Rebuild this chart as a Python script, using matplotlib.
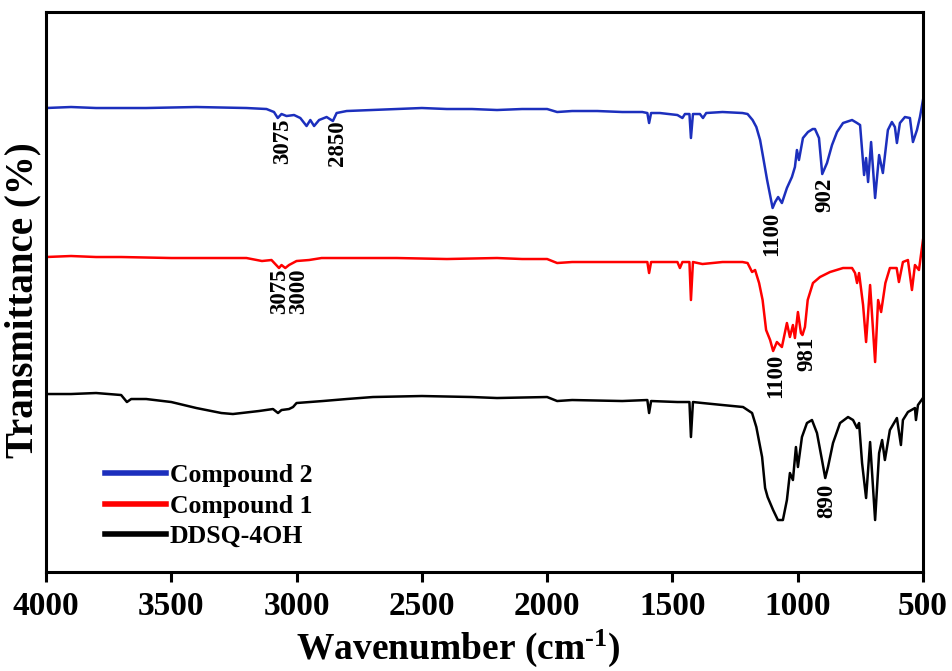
import numpy as np
import matplotlib
matplotlib.use("Agg")
import matplotlib.pyplot as plt

plt.rcParams["font.family"] = ["Liberation Serif", "DejaVu Serif"]
plt.rcParams["font.weight"] = "bold"
plt.rcParams["mathtext.fontset"] = "custom"
plt.rcParams["mathtext.rm"] = "Liberation Serif:bold"
plt.rcParams["mathtext.default"] = "regular"

# FTIR spectra, stacked (offset already included), arbitrary units
wn_c2 = [4000, 3900, 3800, 3600, 3400, 3200, 3120, 3090, 3075, 3060, 3040, 3010,
         2985, 2960, 2945, 2930, 2910, 2880, 2855, 2840, 2800, 2700, 2600, 2500,
         2400, 2300, 2200, 2100, 2000, 1960, 1900, 1800, 1700, 1620, 1600, 1593,
         1585, 1550, 1480, 1460, 1450, 1432, 1426, 1418, 1390, 1378, 1365, 1300,
         1220, 1200, 1180, 1165, 1150, 1138, 1122, 1100, 1090, 1078, 1063, 1043,
         1023, 1011, 1003, 995, 979, 959, 940, 931, 915, 902, 883, 863, 843, 819,
         783, 763, 751, 735, 727, 719, 707, 691, 675, 660, 640, 624, 612, 604,
         592, 572, 552, 540, 524, 512, 500]
t_c2 = [464, 465, 464, 464, 465, 464, 463, 460, 454, 458, 456, 457,
        454, 446, 452, 446, 452, 455, 451, 459, 461, 462, 463, 464,
        463, 463, 462, 463, 463, 460, 461, 461, 460, 460, 459, 449,
        459, 459, 457, 454, 458, 458, 434, 458, 458, 454, 459, 460,
        459, 458, 452, 445, 432, 415, 392, 364, 370, 375, 369, 384,
        395, 405, 422, 412, 434, 440, 443, 443, 434, 398, 409, 427, 440, 449,
        452, 449, 447, 397, 414, 390, 430, 374, 417, 399, 442, 450, 445, 429,
        449, 455, 454, 430, 442, 455, 472]

wn_c1 = [4000, 3900, 3800, 3700, 3500, 3300, 3200, 3138, 3100, 3070, 3060, 3045,
         3030, 3000, 2950, 2900, 2800, 2600, 2400, 2200, 2100, 2000, 1960, 1900,
         1700, 1600, 1593, 1585, 1480, 1470, 1460, 1432, 1426, 1418, 1380, 1300,
         1220, 1200, 1182, 1170, 1154, 1140, 1126, 1110, 1098, 1083, 1063, 1043,
         1031, 1019, 1011, 999, 987, 981, 971, 960, 939, 911, 871, 819, 783, 771,
         763, 755, 739, 727, 711, 691, 679, 667, 650, 632, 605, 596, 580, 560,
         544, 532, 516, 500]
t_c1 = [315, 316, 315, 315, 314, 314, 314, 311, 312, 304, 307, 304,
        307, 311, 312, 314, 314, 314, 313, 314, 313, 313, 309, 310,
        310, 310, 299, 310, 310, 304, 310, 310, 272, 310, 308, 310,
        310, 309, 300, 302, 289, 272, 242, 232, 221, 230, 225, 249,
        235, 247, 234, 260, 239, 237, 245, 272, 289, 295, 300, 304, 304, 299,
        289, 299, 267, 230, 287, 210, 272, 260, 289, 304, 304, 290, 310, 312,
        282, 307, 302, 332]

wn_dd = [4000, 3900, 3800, 3700, 3677, 3660, 3600, 3500, 3400, 3300, 3254, 3150,
         3094, 3074, 3060, 3030, 3014, 3000, 2895, 2800, 2695, 2500, 2300, 2200,
         2000, 1960, 1900, 1700, 1600, 1593, 1585, 1480, 1432, 1426, 1418, 1380,
         1300, 1218, 1182, 1165, 1142, 1130, 1120, 1098, 1079, 1059, 1043, 1031,
         1019, 1007, 999, 983, 963, 943, 923, 903, 890, 879, 859, 831, 799, 779,
         763, 755, 743, 727, 711, 691, 675, 663, 652, 632, 604, 588, 580, 560,
         532, 528, 520, 500]
t_dd = [178, 178, 179, 177, 170, 173, 173, 170, 164, 159, 158, 161,
        163, 159, 162, 163, 165, 169, 171, 173, 175, 176, 175, 174,
        175, 171, 172, 171, 172, 159, 171, 170, 170, 135, 170, 169,
        167, 165, 159, 145, 115, 84, 75, 62, 52, 52, 72, 99,
        92, 125, 105, 135, 149, 152, 139, 112, 94, 105, 129, 149, 155, 152,
        144, 149, 109, 74, 130, 52, 119, 132, 112, 142, 154, 127, 152, 160,
        164, 152, 167, 174]

series = [
    ("Compound 2", wn_c2, t_c2, "#1c2fbd"),
    ("Compound 1", wn_c1, t_c1, "#ff0000"),
    ("DDSQ-4OH", wn_dd, t_dd, "#000000"),
]

# band labels: (text, x position in cm-1, top of the label)
peak_labels = [
    ("3075", 3056, 454), ("2850", 2835, 452), ("1100", 1103, 360), ("902", 891, 394),
    ("3075", 3068, 304), ("3000", 2992, 304), ("1100", 1087, 218), ("981", 963, 235),
    ("890", 883, 88),
]

fig = plt.figure(figsize=(9.52, 6.71), dpi=100)
ax = fig.add_axes([0.0483, 0.1475, 0.9212, 0.8346])

for name, wn, t, col in series:
    ax.plot(wn, t, color=col, lw=1.8, label=name)

for txt, x, y in peak_labels:
    ax.text(x, y, txt, rotation=90, ha="center", va="top",
            fontsize=16.5, fontweight="bold")

ax.set_xlim(4000, 500)
ax.set_ylim(0, 560)
ax.set_xticks([4000, 3500, 3000, 2500, 2000, 1500, 1000, 500])
ax.set_yticks([])
ax.tick_params(axis="x", direction="out", length=7, width=2.2, labelsize=24, pad=7)
for lab in ax.get_xticklabels():
    lab.set_fontweight("bold")
for sp in ax.spines.values():
    sp.set_linewidth(2.2)

ax.set_xlabel("Wavenumber (cm$^{\u20101}$)", fontsize=27, fontweight="bold")
ax.xaxis.set_label_coords(0.47, -0.1)
ax.set_ylabel("Transmittance (%)", fontsize=28, fontweight="bold")
ax.yaxis.set_label_coords(-0.005, 0.485)

leg = ax.legend(loc="lower left", bbox_to_anchor=(0.056, 0.025), frameon=False,
                fontsize=18.5, handlelength=2.35, handletextpad=0.15,
                labelspacing=0.28, borderaxespad=0)
for h in leg.get_lines():
    h.set_linewidth(4)
for t in leg.get_texts():
    t.set_fontweight("bold")

fig.savefig("out.png", dpi=100)
